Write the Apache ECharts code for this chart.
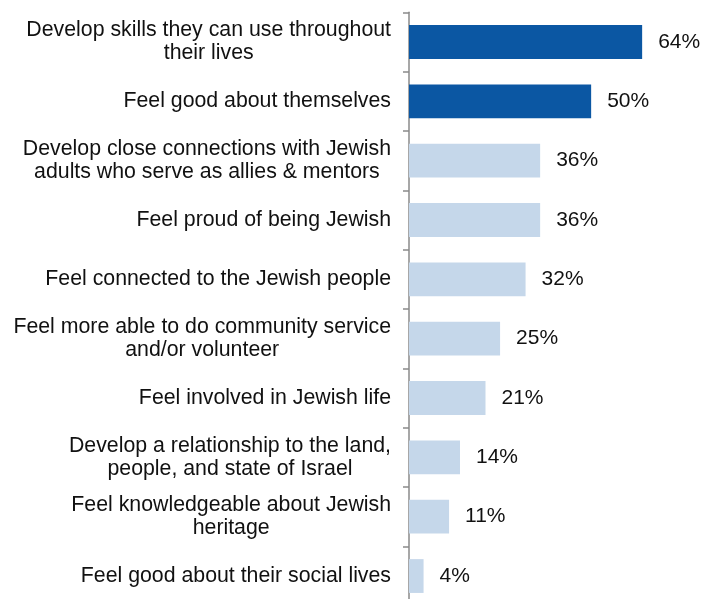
<!DOCTYPE html>
<html>
<head>
<meta charset="utf-8">
<script src="https://cdn.jsdelivr.net/npm/echarts@6/dist/echarts.min.js"></script>
<style>
  html, body { margin: 0; padding: 0; background: #fff; overflow: hidden; }
  /* the axis runs past the bottom edge of the frame, so the chart is a bit taller */
  #chart { width: 706px; height: 610px; }
</style>
</head>
<body>
<div id="chart"></div>
<script>
// categories, top to bottom
const categories = [
  'Develop skills they can use throughout\ntheir lives',
  'Feel good about themselves',
  'Develop close connections with Jewish\nadults who serve as allies & mentors',
  'Feel proud of being Jewish',
  'Feel connected to the Jewish people',
  'Feel more able to do community service\nand/or volunteer',
  'Feel involved in Jewish life',
  'Develop a relationship to the land,\npeople, and state of Israel',
  'Feel knowledgeable about Jewish\nheritage',
  'Feel good about their social lives'
];
const values = [64, 50, 36, 36, 32, 25, 21, 14, 11, 4];
const topCount = 2; // first two bars are highlighted

const chart = echarts.init(document.getElementById('chart'));
chart.setOption({
  animation: false,
  textStyle: { fontFamily: 'Arial, "Liberation Sans", sans-serif' },
  grid: { left: 409, right: 42, top: 12.3, bottom: 4.3, containLabel: false },
  xAxis: {
    type: 'value',
    min: 0,
    max: 70,
    show: false
  },
  yAxis: {
    type: 'category',
    inverse: true,
    data: categories,
    axisLine: { show: true, lineStyle: { color: '#8a8a8a', width: 1.5 } },
    axisTick: { show: true, length: 6, lineStyle: { color: '#8a8a8a', width: 1.5 } },
    splitLine: { show: false },
    axisLabel: {
      margin: 18,
      color: '#111',
      fontSize: 21.3,
      lineHeight: 23,
      formatter: v => '{c|' + v + '}',
      rich: { c: { align: 'center', fontSize: 21.3, lineHeight: 23, color: '#111' } }
    }
  },
  series: [{
    type: 'bar',
    data: values,
    barCategoryGap: '43%',
    itemStyle: {
      color: p => p.dataIndex < topCount ? '#0B57A3' : '#C5D7EA'
    },
    label: {
      show: true,
      position: 'right',
      distance: 16,
      formatter: '{c}%',
      fontSize: 21,
      color: '#111'
    }
  }]
});
</script>
</body>
</html>
